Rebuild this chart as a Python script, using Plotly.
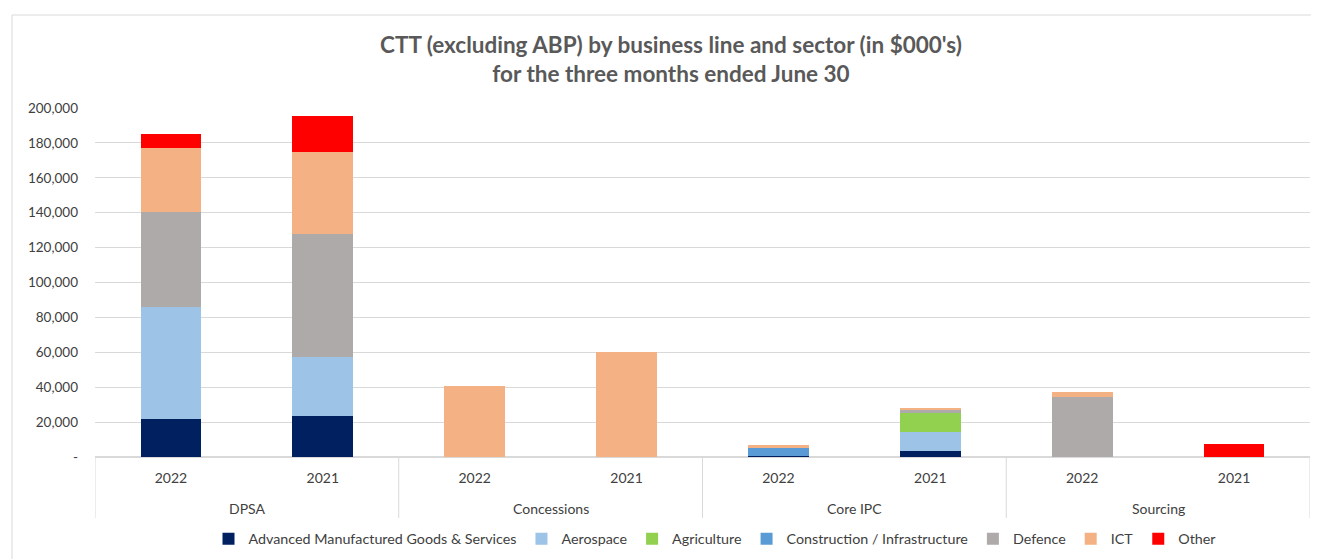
import plotly.graph_objects as go

groups = ["DPSA", "DPSA", "Concessions", "Concessions", "Core IPC", "Core IPC", "Sourcing", "Sourcing"]
years = ["2022", "2021", "2022", "2021", "2022", "2021", "2022", "2021"]

series_names = ["Advanced Manufactured Goods & Services", "Aerospace", "Agriculture",
                "Construction / Infrastructure", "Defence", "ICT", "Other"]
amgs = [22000, 23500, 0, 0, 800, 3600, 0, 0]
aerospace = [64000, 33800, 0, 0, 0, 10900, 0, 0]
agriculture = [0, 0, 0, 0, 0, 10500, 0, 0]
construction = [0, 0, 0, 0, 4500, 0, 0, 0]
defence = [54400, 70700, 0, 0, 0, 2500, 34600, 0]
ict = [36700, 46800, 40700, 60200, 1400, 500, 2700, 0]
other = [8000, 20600, 0, 0, 0, 0, 0, 7600]
series_values = [amgs, aerospace, agriculture, construction, defence, ict, other]
colors = ["#002060", "#9DC3E6", "#92D050", "#5B9BD5", "#AEAAAA", "#F4B183", "#FF0000"]

ytick_vals = [0, 20000, 40000, 60000, 80000, 100000, 120000, 140000, 160000, 180000, 200000]
ytick_text = ["-", "20,000", "40,000", "60,000", "80,000", "100,000", "120,000",
              "140,000", "160,000", "180,000", "200,000"]

title_text = "CTT (excluding ABP) by business line and sector (in $000's)<br>for the three months ended June 30"

# unique category keys built from the group/year lists
cats = [f"{g} {y}" for g, y in zip(groups, years)]

fig = go.Figure()
for name, vals, col in zip(series_names, series_values, colors):
    fig.add_trace(go.Bar(
        x=cats, y=vals, name=name,
        marker=dict(color=col, line=dict(width=0)),
    ))

# page has an 8px body margin; work in screen pixels and convert
OFF = 8
W, H = 1319 - OFF, 559 - OFF
PL, PR, PT, PB = 95, 1310, 108, 457  # plot area in screen px
ml, mr, mt, mb = PL - OFF, W - (PR - OFF), PT - OFF, H - (PB - OFF)

def px_x(p):
    return (p - PL) / (PR - PL)

def px_y(p):
    return (PB - p) / (PB - PT)

gridc = "#D9D9D9"
shapes = [dict(type="rect", xref="paper", yref="paper",
               x0=px_x(12), x1=px_x(1340), y0=px_y(580), y1=px_y(15),
               line=dict(color=gridc, width=1), fillcolor="rgba(0,0,0,0)", layer="below")]

# group boundaries (dividers) and centres from the groups list
unique_groups = []
for g in groups:
    if g not in unique_groups:
        unique_groups.append(g)
bounds = []
annotations = []
for g in unique_groups:
    idx = [i for i, gg in enumerate(groups) if gg == g]
    lo, hi = idx[0] - 0.5, idx[-1] + 0.5
    bounds += [lo, hi]
    annotations.append(dict(text=g, x=(lo + hi) / 2, xref="x", y=px_y(508), yref="paper",
                            showarrow=False, xanchor="center", yanchor="middle",
                            font=dict(size=14, color="#404040")))
for b in sorted(set(bounds)):
    shapes.append(dict(type="line", xref="x", yref="paper", x0=b, x1=b,
                       y0=px_y(457), y1=px_y(518), line=dict(color=gridc, width=1)))

fig.update_layout(
    width=W, height=H,
    barmode="stack", bargap=0.6,
    margin=dict(l=ml, r=mr, t=mt, b=mb, autoexpand=False),
    paper_bgcolor="white", plot_bgcolor="white",
    font=dict(family="Lato, Open Sans, sans-serif", size=14, color="#404040"),
    title=dict(text=title_text, x=px_x(671), xanchor="center", xref="paper",
               y=1 - (53 - OFF) / H, yref="container", yanchor="middle",
               font=dict(family="Lato, Open Sans, sans-serif", size=22.5, color="#595959", weight="bold")),
    legend=dict(orientation="h", x=px_x(715), xanchor="center", y=px_y(539), yanchor="middle",
                font=dict(size=14.3, color="#404040"), traceorder="normal"),
    showlegend=True,
    shapes=shapes,
    annotations=annotations,
)
fig.update_xaxes(
    type="category", range=[-0.5, len(cats) - 0.5],
    tickvals=cats, ticktext=years,
    showgrid=False, showline=True, linecolor=gridc,
    tickfont=dict(size=14, color="#404040"), ticks="", ticklabelstandoff=8,
)
fig.update_yaxes(
    range=[0, 200000], tickvals=ytick_vals, ticktext=ytick_text,
    showgrid=True, gridcolor=gridc, gridwidth=1,
    zeroline=True, zerolinecolor=gridc,
    showline=False, ticks="", ticklabelstandoff=16,
    tickfont=dict(size=13.5, color="#404040"),
)

fig.write_html("out.html")
